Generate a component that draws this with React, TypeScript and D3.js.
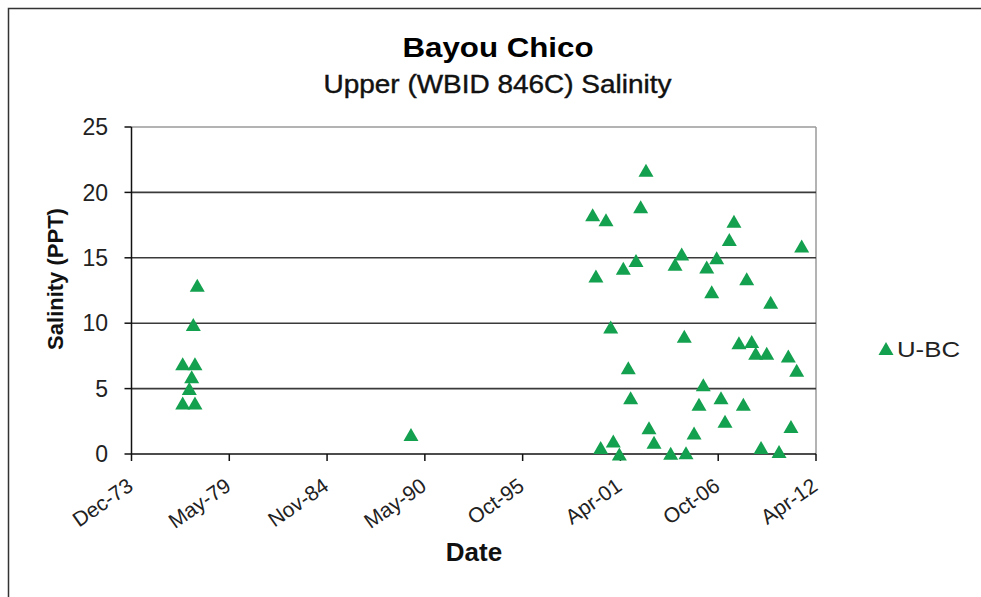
import React from "react";
import * as d3 from "d3";

// ---- Data ----
const sampleDates: string[] = [
  "1976-10-14", "1977-06-22", "1977-04-16", "1977-02-26", "1976-10-14", "1977-06-22", "1977-05-19", "1977-08-08",
  "1989-07-27",
  "2002-09-24", "1999-09-29", "2000-06-28", "2002-06-07", "2007-08-28", "2007-05-25", "2011-06-13", "2004-09-23",
  "2006-09-09", "2002-03-04", "2004-05-10", "2006-02-17", "2001-06-17", "1999-12-05", "2008-05-15", "2006-05-30",
  "2009-09-17", "2000-10-02", "2004-11-15", "2007-12-08", "2008-08-25", "2008-11-15", "2009-06-28", "2010-09-13",
  "2011-03-03", "2001-09-27", "2005-12-09", "2001-11-14", "2006-12-06", "2005-09-12", "2008-03-07", "2007-02-26",
  "2002-11-24", "2010-11-06", "2005-06-03", "2003-03-07", "2000-11-24", "2000-03-11", "2001-03-28", "2004-02-11",
  "2004-12-20", "2009-03-04", "2010-03-07",
];
const salinity: number[] = [
  6.9, 6.9, 5.9, 5.0, 3.9, 3.9, 9.9, 12.9,
  1.5,
  21.7, 18.3, 17.9, 18.9, 17.8, 16.4, 15.9, 15.3,
  15.0, 14.8, 14.5, 14.3, 14.2, 13.6, 13.4, 12.4,
  11.6, 9.7, 9.0, 8.5, 8.6, 7.7, 7.7, 7.5,
  6.4, 6.6, 5.3, 4.3, 4.3, 3.8, 3.8, 2.5,
  2.0, 2.1, 1.6, 0.9, 1.0, 0.5, 0.0, 0.05,
  0.1, 0.5, 0.2,
];
const yTicks: number[] = [0, 5, 10, 15, 20, 25];
const xTickCount = 8; // Excel date axis: every 2000 days from Dec-73
const seriesName = "U-BC";
const titleText = "Bayou Chico";
const subtitleText = "Upper (WBID 846C) Salinity";
const xTitle = "Date";
const yTitle = "Salinity (PPT)";

const W = 981;
const H = 597;
const left = 131.5;
const right = 816;
const top = 127;
const bottom = 454;
const green = "#13a04f";
const font = "Arial, 'Liberation Sans', sans-serif";

export default function App() {
  const parse = d3.timeParse("%Y-%m-%d");
  const start = new Date(1973, 11, 2);
  const end = new Date(2012, 3, 1);
  const x = d3.scaleTime().domain([start, end]).range([left, right]);
  const y = d3.scaleLinear().domain([0, 25]).range([bottom, top]);
  const xTickVals = d3.range(xTickCount).map((k) => d3.timeDay.offset(start, 2000 * k));
  const fmt = d3.timeFormat("%b-%y");
  const points = sampleDates.map((d, i) => ({ date: parse(d) as Date, v: salinity[i] }));
  const tw = 15, th = 13;
  const tri = `M0,${-th / 2}L${tw / 2},${th / 2}L${-tw / 2},${th / 2}Z`;

  return (
    <svg width={W} height={H} style={{ position: "absolute", left: 0, top: 0, display: "block", background: "#fff" }} fontFamily={font}>
      <rect x={8.5} y={8.5} width={1000} height={1000} fill="#fff" stroke="#333" strokeWidth={1.5} />
      <text x={498} y={56.7} textAnchor="middle" fontSize={28} fontWeight="bold" textLength={191} lengthAdjust="spacingAndGlyphs" fill="#000">{titleText}</text>
      <text x={497.5} y={93.3} textAnchor="middle" fontSize={25} textLength={348} lengthAdjust="spacingAndGlyphs" fill="#111" stroke="#111" strokeWidth={0.4}>{subtitleText}</text>

      {/* plot border (top and right) */}
      <line x1={left} x2={right} y1={y(25)} y2={y(25)} stroke="#9a9a9a" strokeWidth={1.5} />
      <line x1={right} x2={right} y1={top} y2={bottom} stroke="#9a9a9a" strokeWidth={1.5} />
      {/* gridlines */}
      {yTicks.filter((t) => t > 0 && t < 25).map((t) => (
        <line key={"g" + t} x1={left} x2={right} y1={y(t)} y2={y(t)} stroke="#3a3a3a" strokeWidth={1.6} />
      ))}
      {/* y axis */}
      <line x1={left} x2={left} y1={top} y2={bottom} stroke="#111" strokeWidth={1.5} />
      {yTicks.map((t) => (
        <g key={"y" + t}>
          <line x1={left - 7} x2={left} y1={y(t)} y2={y(t)} stroke="#111" strokeWidth={1.5} />
          <text x={108} y={y(t) + 8.2} textAnchor="end" fontSize={23} fill="#222">{t}</text>
        </g>
      ))}
      {/* x axis */}
      <line x1={left} x2={right} y1={bottom} y2={bottom} stroke="#111" strokeWidth={1.5} />
      {xTickVals.map((d, i) => (
        <g key={"x" + i}>
          <line x1={x(d)} x2={x(d)} y1={bottom} y2={bottom + 7} stroke="#111" strokeWidth={1.5} />
          <text transform={`translate(${x(d) + 3},${489}) rotate(-35)`} textAnchor="end" fontSize={21} fill="#222">{fmt(d)}</text>
        </g>
      ))}
      <text x={474} y={561} textAnchor="middle" fontSize={26} fontWeight="bold" fill="#111">{xTitle}</text>
      <text transform={`translate(63,279) rotate(-90)`} textAnchor="middle" fontSize={22} fontWeight="bold" fill="#111">{yTitle}</text>

      {/* points */}
      {points.map((p, i) => (
        <path key={"p" + i} d={tri} transform={`translate(${x(p.date)},${y(p.v)})`} fill={green} />
      ))}

      {/* legend */}
      <path d={tri} transform="translate(886,348.5)" fill={green} />
      <text x={897} y={357} fontSize={22} textLength={63} lengthAdjust="spacingAndGlyphs" fill="#222">{seriesName}</text>
    </svg>
  );
}
